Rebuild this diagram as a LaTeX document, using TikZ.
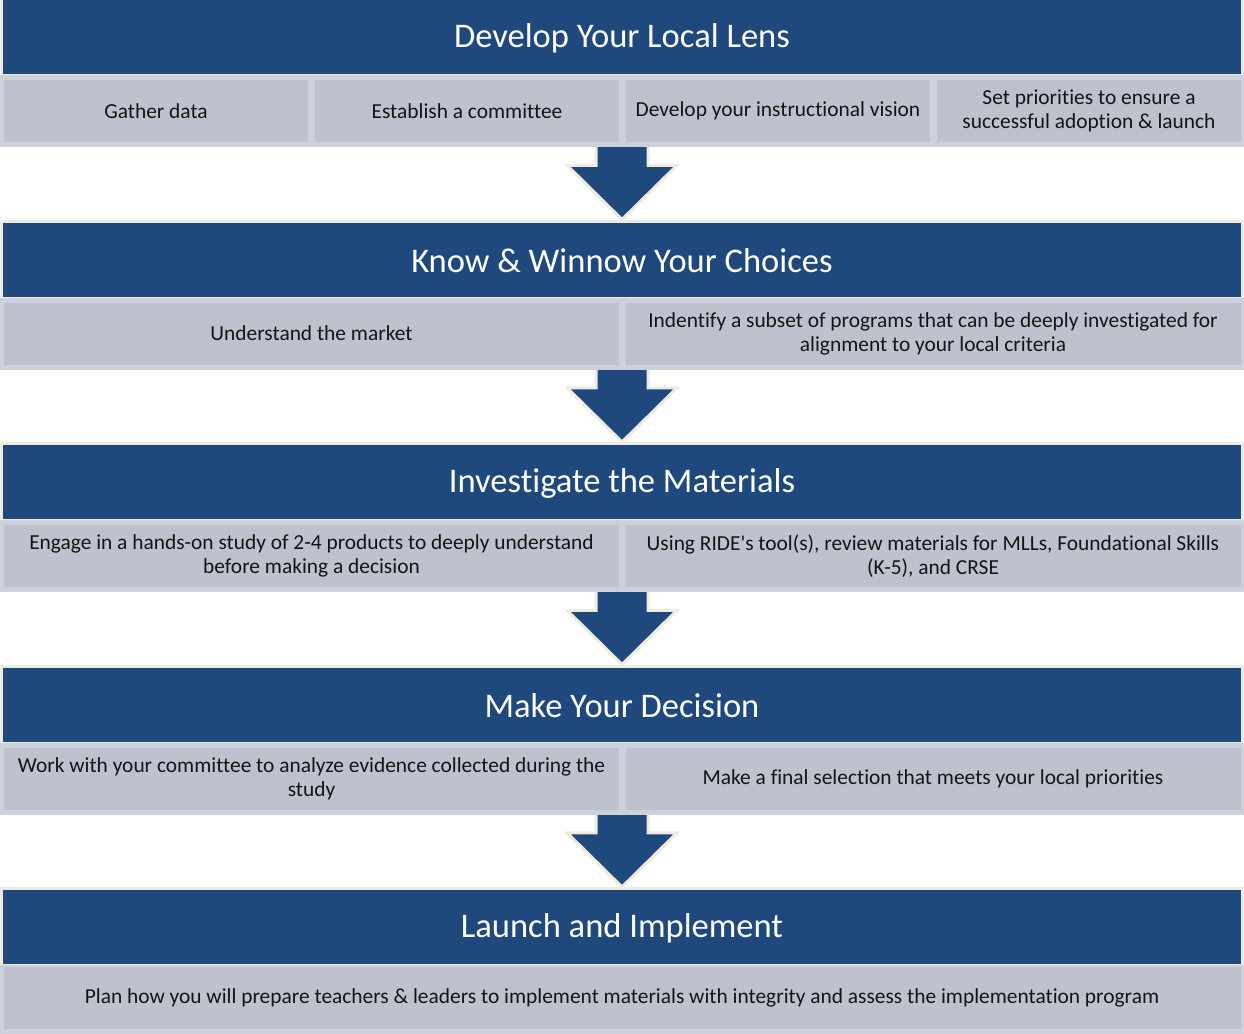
\documentclass[tikz,border=0pt]{standalone}
\usepackage{fontspec}
\setmainfont{Carlito}[Ligatures={TeX,NoCommon}]
\usetikzlibrary{calc,backgrounds}
\definecolor{dblue}{HTML}{1F497D}
\definecolor{cream}{HTML}{EEECE1}
\definecolor{gfill}{HTML}{BDC2CE}
\definecolor{gline}{HTML}{CDD1DB}
\begin{document}
\begin{tikzpicture}[x=0.75pt,y=-0.75pt,
  bar/.style={fill=dblue, draw=cream, line width=2.25pt, text=white,
    font=\fontsize{25.9}{30}\selectfont, minimum width=930.75pt,
    minimum height=57.75pt, inner sep=0pt},
  bartext/.style={text=white, font=\fontsize{25.9}{30}\selectfont, inner sep=0pt},
  rowbg/.style={fill=gline, draw=none, minimum width=933pt,
    minimum height=54pt, inner sep=0pt},
  cell/.style={fill=gfill, draw=none, inner sep=0pt, align=center,
    font=\fontsize{16.05}{18}\selectfont, text=black!92,
    minimum height=46.5pt},
  cellfour/.style={cell, minimum width=228pt},
  celltwo/.style={cell, minimum width=461.25pt},
  cellone/.style={cell, minimum width=927.75pt},
  stagearrow/.style={fill=dblue, draw=cream, line width=2.25pt, line join=miter}
]
\useasboundingbox (0,0) rectangle (1244,1033);

% ---------- Stage 1 ----------
\node[bar] (bar1) at (622,37) {};
\node[bartext] (t1) at (622,38.5) {Develop Your Local Lens};
\node[rowbg] (row1) at (622,111) {};
\node[cellfour] (c1a) at (156,111) {Gather data};
\node[cellfour] (c1b) at (467,111) {Establish a committee};
\node[cellfour] (c1c) at (778,111) {Develop your instructional vision};
\node[cellfour] (c1d) at (1089,111) {Set priorities to ensure a\\successful adoption \& launch};

% ---------- Stage 2 ----------
\node[bar] (bar2) at (622,259.5) {};
\node[bartext] (t2) at (622,261) {Know \& Winnow Your Choices};
\node[rowbg] (row2) at (622,333.5) {};
\node[celltwo] (c2a) at (311.5,333.5) {Understand the market};
\node[celltwo] (c2b) at (933,333.5) {Indentify a subset of programs that can be deeply investigated for\\alignment to your local criteria};

% ---------- Stage 3 ----------
\node[bar] (bar3) at (622,482) {};
\node[bartext] (t3) at (622,483.5) {Investigate the Materials};
\node[rowbg] (row3) at (622,556) {};
\node[celltwo] (c3a) at (311.5,556) {Engage in a hands-on study of 2-4 products to deeply understand\\before making a decision};
\node[celltwo] (c3b) at (933,556) {Using RIDE\textquotesingle s tool(s), review materials for MLLs, Foundational Skills\\(K-5), and CRSE};

% ---------- Stage 4 ----------
\node[bar] (bar4) at (622,704.5) {};
\node[bartext] (t4) at (622,706) {Make Your Decision};
\node[rowbg] (row4) at (622,778.5) {};
\node[celltwo] (c4a) at (311.5,778.5) {Work with your committee to analyze evidence collected during the\\study};
\node[celltwo] (c4b) at (933,778.5) {Make a final selection that meets your local priorities};

% ---------- Stage 5 ----------
\node[bar] (bar5) at (622,927) {};
\node[bartext] (t5) at (622,928.5) {Launch and Implement};
\node[rowbg] (row5) at (622,1001) {};
\node[cellone] (c5a) at (622,998) {Plan how you will prepare teachers \& leaders to implement materials with integrity and assess the implementation program};

% ---------- arrows between stages ----------
\begin{pgfonlayer}{background}
\fill[white] (0,0) rectangle (1244,1033);
\foreach \r/\b in {row1/bar2,row2/bar3,row3/bar4,row4/bar5}{
  \draw[stagearrow] ($(\r.south)+(-26,-8)$) -- ($(\r.south)+(26,-8)$)
    -- ($(\r.south)+(26,18)$) -- ($(\r.south)+(55,18)$)
    -- (\r.south |- \b.north)
    -- ($(\r.south)+(-55,18)$) -- ($(\r.south)+(-26,18)$) -- cycle;
}
\end{pgfonlayer}
\end{tikzpicture}
\end{document}
